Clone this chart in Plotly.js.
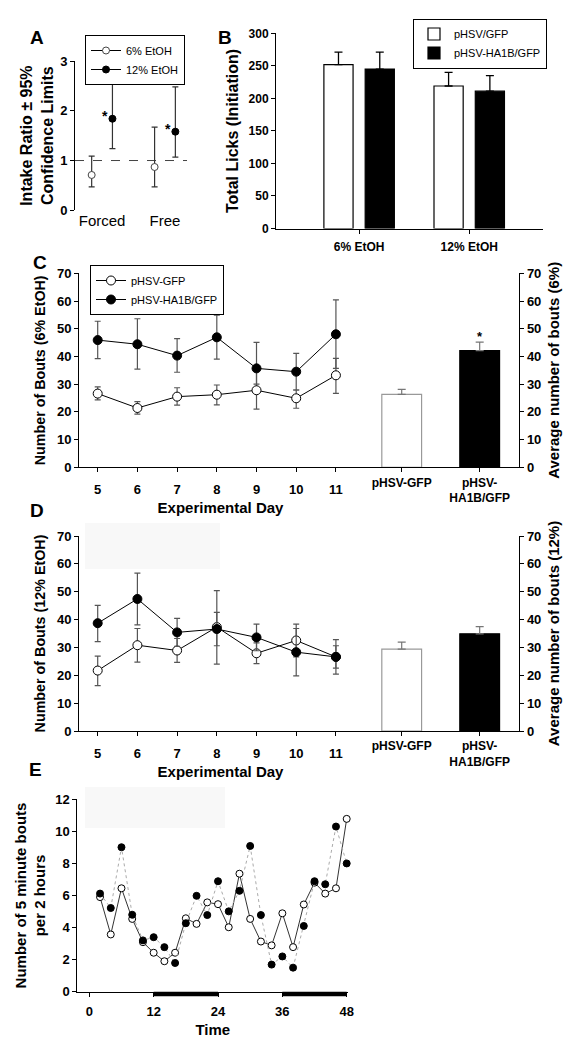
<!DOCTYPE html>
<html><head><meta charset="utf-8">
<script src="https://cdn.plot.ly/plotly-3.0.1.min.js"></script>
<style>html,body{margin:0;padding:0;background:#fff}#chart{width:583px;height:1050px}</style>
</head><body><div id="chart"></div>
<script>
// ---------- Panel A ----------
const aCategories = ['Forced', 'Free'];
const a6Ratio  = [0.71, 0.87];
const a6Upper  = [1.09, 1.67];
const a6Lower  = [0.47, 0.47];
const a12Ratio = [1.84, 1.58];
const a12Upper = [2.70, 2.48];
const a12Lower = [1.24, 1.07];
const aReference = 1;

// ---------- Panel B ----------
const bCategories = ['6% EtOH', '12% EtOH'];
const bGfp     = [252, 219];
const bGfpErr  = [19, 21];
const bHa1b    = [245, 211];
const bHa1bErr = [26, 24];

// ---------- Panel C (6% EtOH) ----------
const days = [5, 6, 7, 8, 9, 10, 11];
const cGfp       = [26.6, 21.4, 25.5, 26.2, 27.8, 24.9, 33.2];
const cGfpUpper  = [29.0, 23.7, 28.7, 29.7, 34.6, 27.9, 39.3];
const cGfpLower  = [24.3, 19.2, 22.4, 22.5, 21.0, 21.3, 26.7];
const cHa1b      = [45.9, 44.4, 40.3, 46.9, 35.7, 34.5, 48.0];
const cHa1bUpper = [52.7, 53.6, 46.4, 54.9, 45.1, 41.1, 60.4];
const cHa1bLower = [39.2, 35.4, 34.3, 39.0, 30.0, 27.9, 35.7];
const groupCats  = ['pHSV-GFP', 'pHSV-HA1B/GFP'];
const groupTicks = ['pHSV-GFP', 'pHSV-<br>HA1B/GFP'];
const cAvg    = [26.3, 42.1];
const cAvgErr = [1.8, 3.1];

// ---------- Panel D (12% EtOH) ----------
const dGfp       = [21.7, 30.8, 28.9, 37.3, 27.9, 32.5, 26.6];
const dGfpUpper  = [26.9, 36.8, 33.2, 50.4, 31.6, 38.4, 30.6];
const dGfpLower  = [16.3, 24.7, 24.6, 24.0, 24.2, 26.6, 22.6];
const dHa1b      = [38.7, 47.4, 35.4, 36.6, 33.6, 28.3, 26.6];
const dHa1bUpper = [45.1, 56.7, 40.4, 42.6, 38.4, 36.8, 32.8];
const dHa1bLower = [32.1, 38.1, 30.4, 30.6, 28.8, 19.8, 20.4];
const dAvg    = [29.4, 34.9];
const dAvgErr = [2.5, 2.6];

// ---------- Panel E ----------
const eTime = [2, 4, 6, 8, 10, 12, 14, 16, 18, 20, 22, 24, 26, 28, 30, 32, 34, 36, 38, 40, 42, 44, 46, 48];
const eGfp  = [5.9, 3.57, 6.45, 4.54, 3.09, 2.43, 1.9, 2.43, 4.58, 4.23, 5.57, 5.46, 4.02, 7.36, 4.54, 3.13, 2.89, 4.89, 2.78, 5.44, 6.8, 6.12, 6.45, 10.78];
const eHa1b = [6.12, 5.22, 9.01, 4.8, 3.2, 3.4, 2.78, 1.79, 4.27, 5.98, 4.78, 6.89, 5.01, 6.29, 9.09, 4.78, 1.69, 2.2, 1.5, 4.1, 6.89, 6.7, 10.3, 8.0];
const eTimeTicks = [0, 12, 24, 36, 48];
const darkPhases = [[12, 24], [36, 48]];

// ---------- helpers ----------
const W = 583, H = 1050;
const F = 'Liberation Sans, Arial, sans-serif';
const px = x => x / W;
const py = y => 1 - y / H;
const domX = (a, b) => [a / W, b / W];
const domY = (top, bottom) => [1 - bottom / H, 1 - top / H];
const up = (u, m) => u.map((v, i) => +(v - m[i]).toFixed(3));
const dn = (l, m) => m.map((v, i) => +(v - l[i]).toFixed(3));
const zeros = a => a.map(() => 0);
const offA = 0.165;

const baseAx = {
  showline: true, linecolor: '#000', linewidth: 1, ticks: 'outside', ticklen: 4,
  tickwidth: 1, tickcolor: '#000', showgrid: false, zeroline: false, fixedrange: true,
  tickfont: {family: F, size: 12, weight: 'bold', color: '#000'}
};
const ax = o => Object.assign({}, baseAx, o);
const tfont = s => ({family: F, size: s, weight: 'bold', color: '#000'});

const openMarker = s => ({symbol: 'circle', size: s, color: '#fff', line: {color: '#000', width: 1}});
const fillMarker = s => ({symbol: 'circle', size: s, color: '#000', line: {color: '#000', width: 1}});

// Panel A: one trace per category so that the points are not joined, legend shows line sample
const aSeries = [
  {name: '6% EtOH', m: a6Ratio, u: a6Upper, l: a6Lower, off: -offA,
   marker: Object.assign(openMarker(7), {line: {color: '#444', width: 1}})},
  {name: '12% EtOH', m: a12Ratio, u: a12Upper, l: a12Lower, off: offA, marker: fillMarker(7)}
];
const traces = [];
aSeries.forEach(s => {
  aCategories.forEach((c, i) => {
    traces.push({x: [i + s.off], y: [s.m[i]], xaxis: 'x', yaxis: 'y', mode: 'lines+markers',
      name: s.name, legend: 'legend', legendgroup: s.name, showlegend: i === 0,
      marker: s.marker, line: {color: '#000', width: 1},
      error_y: {type: 'data', symmetric: false, array: [+(s.u[i] - s.m[i]).toFixed(3)],
                arrayminus: [+(s.m[i] - s.l[i]).toFixed(3)], color: '#333', thickness: 1.2, width: 3}});
  });
});

traces.push(
  // B
  {type: 'bar', x: bCategories, y: bGfp, xaxis: 'x2', yaxis: 'y2', name: 'pHSV/GFP', legend: 'legend2',
   width: 0.265, offset: -0.32, marker: {color: '#fff', line: {color: '#000', width: 1.2}},
   error_y: {type: 'data', symmetric: false, array: bGfpErr, arrayminus: zeros(bGfpErr), color: '#000', thickness: 1.3, width: 4}},
  {type: 'bar', x: bCategories, y: bHa1b, xaxis: 'x2', yaxis: 'y2', name: 'pHSV-HA1B/GFP', legend: 'legend2',
   width: 0.265, offset: 0.055, marker: {color: '#000', line: {color: '#000', width: 1.2}},
   error_y: {type: 'data', symmetric: false, array: bHa1bErr, arrayminus: zeros(bHa1bErr), color: '#000', thickness: 1.3, width: 4}},
  // C lines
  {x: days, y: cGfp, xaxis: 'x3', yaxis: 'y3', mode: 'lines+markers', name: 'pHSV-GFP', legend: 'legend3',
   line: {color: '#000', width: 1}, marker: openMarker(9),
   error_y: {type: 'data', symmetric: false, array: up(cGfpUpper, cGfp), arrayminus: dn(cGfpLower, cGfp), color: '#555', thickness: 1.2, width: 3}},
  {x: days, y: cHa1b, xaxis: 'x3', yaxis: 'y3', mode: 'lines+markers', name: 'pHSV-HA1B/GFP', legend: 'legend3',
   line: {color: '#000', width: 1}, marker: fillMarker(9),
   error_y: {type: 'data', symmetric: false, array: up(cHa1bUpper, cHa1b), arrayminus: dn(cHa1bLower, cHa1b), color: '#555', thickness: 1.2, width: 3}},
  // C bars
  {type: 'bar', x: groupCats, y: cAvg, xaxis: 'x4', yaxis: 'y4', showlegend: false, width: 0.51,
   marker: {color: ['#fff', '#000'], line: {color: ['#999', '#000'], width: 1.2}},
   error_y: {type: 'data', symmetric: false, array: cAvgErr, arrayminus: zeros(cAvgErr), color: '#777', thickness: 1.2, width: 4}},
  // D lines
  {x: days, y: dGfp, xaxis: 'x5', yaxis: 'y5', mode: 'lines+markers', name: 'pHSV-GFP', showlegend: false,
   line: {color: '#000', width: 1}, marker: openMarker(9),
   error_y: {type: 'data', symmetric: false, array: up(dGfpUpper, dGfp), arrayminus: dn(dGfpLower, dGfp), color: '#555', thickness: 1.2, width: 3}},
  {x: days, y: dHa1b, xaxis: 'x5', yaxis: 'y5', mode: 'lines+markers', name: 'pHSV-HA1B/GFP', showlegend: false,
   line: {color: '#000', width: 1}, marker: fillMarker(9),
   error_y: {type: 'data', symmetric: false, array: up(dHa1bUpper, dHa1b), arrayminus: dn(dHa1bLower, dHa1b), color: '#555', thickness: 1.2, width: 3}},
  // D bars
  {type: 'bar', x: groupCats, y: dAvg, xaxis: 'x6', yaxis: 'y6', showlegend: false, width: 0.51,
   marker: {color: ['#fff', '#000'], line: {color: ['#999', '#000'], width: 1.2}},
   error_y: {type: 'data', symmetric: false, array: dAvgErr, arrayminus: zeros(dAvgErr), color: '#777', thickness: 1.2, width: 4}},
  // E
  {x: eTime, y: eGfp, xaxis: 'x7', yaxis: 'y7', mode: 'lines+markers', name: 'pHSV-GFP', showlegend: false,
   line: {color: '#333', width: 1}, marker: openMarker(7)},
  {x: eTime, y: eHa1b, xaxis: 'x7', yaxis: 'y7', mode: 'lines+markers', name: 'pHSV-HA1B/GFP', showlegend: false,
   line: {color: '#aaa', width: 1, dash: 'dot'}, marker: fillMarker(7)}
);
traces.forEach(t => { t.cliponaxis = false; t.hoverinfo = 'skip'; });

const legendBase = {xanchor: 'left', yanchor: 'top', bordercolor: '#000', borderwidth: 1, bgcolor: '#fff',
  font: {family: F, size: 11, color: '#000'}, itemwidth: 30, tracegroupgap: 0, itemclick: false, itemdoubleclick: false};

const layout = {
  width: W, height: H, margin: {l: 0, r: 0, t: 0, b: 0}, paper_bgcolor: '#fff', plot_bgcolor: 'rgba(0,0,0,0)',
  font: {family: F, color: '#000'}, showlegend: true, barmode: 'overlay',
  // A
  xaxis: {domain: domX(75, 187), range: [-0.43, 1.35], anchor: 'y', showline: false, ticks: '', showgrid: false,
          zeroline: false, fixedrange: true, tickvals: aCategories.map((c, i) => i), ticktext: aCategories,
          tickfont: {family: F, size: 15, color: '#000'}},
  yaxis: ax({domain: domY(61, 210.3), range: [0, 3], dtick: 1, anchor: 'x', tickfont: tfont(13),
          title: {text: 'Intake Ratio ± 95%<br>Confidence Limits', font: tfont(16), standoff: 2}}),
  // B
  xaxis2: ax({domain: domX(276, 543), type: 'category', range: [-0.755, 1.67], anchor: 'y2', tickfont: tfont(12),
          ticklabelstandoff: 3}),
  yaxis2: ax({domain: domY(33.3, 228.5), range: [0, 300], dtick: 50, anchor: 'x2',
          title: {text: 'Total Licks (Initiation)', font: tfont(16), standoff: 5}}),
  // C
  xaxis3: ax({domain: domX(79, 362), range: [4.529, 11.657], tickvals: days, anchor: 'y3', ticklabelstandoff: 6,
          tickfont: tfont(13), title: {text: 'Experimental Day', font: tfont(15), standoff: 6}}),
  yaxis3: ax({domain: domY(273.3, 467.3), range: [0, 70], dtick: 10, anchor: 'x3', tickfont: tfont(13),
          title: {text: 'Number of Bouts (6% EtOH)', font: tfont(14.3), standoff: 7}}),
  xaxis4: ax({domain: domX(362, 519.3), type: 'category', range: [-0.509, 1.508], anchor: 'y4',
          tickvals: groupCats, ticktext: groupTicks, tickfont: tfont(12)}),
  yaxis4: ax({domain: domY(273.3, 467.3), range: [0, 70], dtick: 10, anchor: 'x4', side: 'right', tickfont: tfont(13),
          title: {text: 'Average number of bouts (6%)', font: tfont(15), standoff: 8}}),
  // D
  xaxis5: ax({domain: domX(79, 362), range: [4.529, 11.657], tickvals: days, anchor: 'y5', ticklabelstandoff: 6,
          tickfont: tfont(13), title: {text: 'Experimental Day', font: tfont(15), standoff: 6}}),
  yaxis5: ax({domain: domY(536, 731), range: [0, 70], dtick: 10, anchor: 'x5', tickfont: tfont(13),
          title: {text: 'Number of Bouts (12% EtOH)', font: tfont(14.3), standoff: 7}}),
  xaxis6: ax({domain: domX(362, 519.3), type: 'category', range: [-0.509, 1.508], anchor: 'y6',
          tickvals: groupCats, ticktext: groupTicks, tickfont: tfont(12)}),
  yaxis6: ax({domain: domY(536, 731), range: [0, 70], dtick: 10, anchor: 'x6', side: 'right', tickfont: tfont(13),
          title: {text: 'Average number of bouts (12%)', font: tfont(15), standoff: 8}}),
  // E
  xaxis7: ax({domain: domX(77.3, 348.3), range: [-2.24, 48.3], tickvals: eTimeTicks, anchor: 'y7', ticklabelstandoff: 4,
          tickfont: tfont(13), title: {text: 'Time', font: tfont(15), standoff: 6}}),
  yaxis7: ax({domain: domY(799.3, 991.7), range: [0, 12], dtick: 2, anchor: 'x7', tickfont: tfont(13),
          title: {text: 'Number of 5 minute bouts<br>per 2 hours', font: tfont(15), standoff: 5}}),

  legend: Object.assign({}, legendBase, {x: px(85), y: py(35)}),
  legend2: Object.assign({}, legendBase, {x: px(413), y: py(18.5)}),
  legend3: Object.assign({}, legendBase, {x: px(90), y: py(265)}),

  shapes: [
    {type: 'line', xref: 'x', yref: 'y', x0: -0.43, x1: 1.35, y0: aReference, y1: aReference,
     line: {color: '#444', width: 1, dash: 'dash'}, layer: 'below'},
    {type: 'rect', xref: 'paper', yref: 'paper', x0: px(85), x1: px(220), y0: py(569), y1: py(523),
     fillcolor: '#f8f8f8', line: {width: 0}, layer: 'below'},
    {type: 'rect', xref: 'paper', yref: 'paper', x0: px(85), x1: px(225), y0: py(828), y1: py(787),
     fillcolor: '#f8f8f8', line: {width: 0}, layer: 'below'}
  ].concat(darkPhases.map(p => ({type: 'rect', xref: 'x7', yref: 'paper', x0: p[0], x1: p[1],
     y0: py(996.3), y1: py(991.7), fillcolor: '#000', line: {width: 0}}))),

  annotations: [
    {text: 'A', x: px(28), y: py(25), xref: 'paper', yref: 'paper', showarrow: false, font: tfont(19)},
    {text: 'B', x: px(225), y: py(25), xref: 'paper', yref: 'paper', showarrow: false, font: tfont(19)},
    {text: 'C', x: px(31), y: py(250), xref: 'paper', yref: 'paper', showarrow: false, font: tfont(19)},
    {text: 'D', x: px(28), y: py(510), xref: 'paper', yref: 'paper', showarrow: false, font: tfont(19)},
    {text: 'E', x: px(27), y: py(782), xref: 'paper', yref: 'paper', showarrow: false, font: tfont(19)},
    {text: '*', x: 0 + offA, y: a12Ratio[0], xref: 'x', yref: 'y', showarrow: false, xshift: -7, yshift: 3, font: tfont(14)},
    {text: '*', x: 1 + offA, y: a12Ratio[1], xref: 'x', yref: 'y', showarrow: false, xshift: -7, yshift: 3, font: tfont(14)},
    {text: '*', x: groupCats[1], y: cAvg[1] + cAvgErr[1], xref: 'x4', yref: 'y4', showarrow: false, yshift: 6, font: tfont(13)}
  ]
};

Plotly.newPlot('chart', traces, layout, {staticPlot: true, displayModeBar: false});
</script>
</body></html>
